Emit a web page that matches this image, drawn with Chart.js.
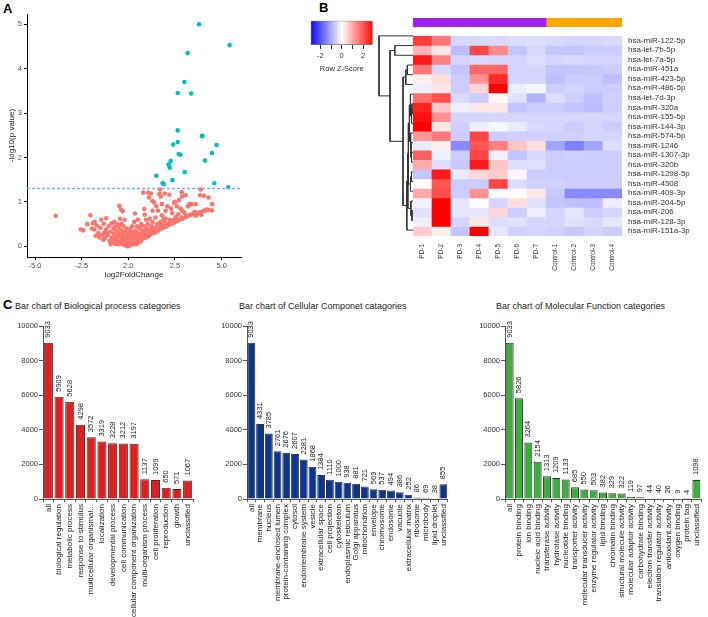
<!DOCTYPE html>
<html lang="en">
<head>
<meta charset="UTF-8">
<title>miRNA volcano, heatmap and GO bar charts</title>
<style>
  body { margin: 0; background: #fff; font-family: Arial, "Liberation Sans", sans-serif; }
  #page { position: relative; width: 708px; height: 617px; overflow: hidden; }
  canvas { position: absolute; }
  .panel { position: absolute; font-weight: bold; font-size: 13px; color: #000; }
  .ttl { position: absolute; font-size: 9px; color: #222; white-space: nowrap; }
</style>
<script src="https://cdn.jsdelivr.net/npm/chart.js"></script>
</head>
<body>
<div id="page">
  <div class="panel" style="left:3px;top:1px">A</div>
  <div class="panel" style="left:319px;top:0px">B</div>
  <div class="panel" style="left:3px;top:297px">C</div>
  <div class="ttl" style="left:15px;top:301px">Bar chart of Biological process categories</div>
  <div class="ttl" style="left:239px;top:301px">Bar chart of Cellular Componet catagories</div>
  <div class="ttl" style="left:496px;top:301px">Bar chart of Molecular Function categories</div>

  <canvas id="volcano" style="left:0;top:0" width="245" height="285"></canvas>
  <canvas id="zkey" style="left:300px;top:15px" width="80" height="60"></canvas>
  <canvas id="groups" style="left:413px;top:18px" width="209" height="9"></canvas>
  <canvas id="dendro" style="left:378px;top:31px" width="35" height="204"></canvas>
  <canvas id="heat" style="left:413px;top:25px" width="295" height="250"></canvas>
  <canvas id="bp" style="left:0;top:318px" width="200" height="299"></canvas>
  <canvas id="cc" style="left:203px;top:318px" width="252" height="299"></canvas>
  <canvas id="mf" style="left:460px;top:318px" width="248" height="299"></canvas>
</div>

<script>
// ---- panel A: volcano ----
const volcanoXTicks = [-5, -2.5, 0, 2.5, 5];
const volcanoXLabels = ['-5.0', '-2.5', '2.0', '2.5', '5.0'];
const volcanoYTicks = [0, 1, 2, 3, 4, 5];
const pCutoff = 1.3;

// significant miRNAs [log2FC, -log10 p]
const sigPoints = [
  [3.79, 5.0], [5.43, 4.53], [3.18, 4.35], [3.0, 3.7], [2.65, 3.45], [3.37, 3.44],
  [2.65, 2.61], [3.95, 2.48], [3.98, 2.49], [2.65, 2.35], [2.41, 2.29], [4.73, 2.28],
  [2.7, 2.08], [2.79, 2.06], [4.48, 2.1], [2.27, 1.92], [4.11, 1.93], [2.16, 1.84],
  [2.22, 1.77], [3.02, 1.67], [1.5, 1.59], [2.36, 1.49], [1.84, 1.42], [1.9, 1.4],
  [4.61, 1.42], [5.36, 1.33]
];

const nonSigPoints = [
  [-3.89, 0.69], [-2.55, 0.38], [-2.41, 0.36], [-2.03, 0.70], [-2.2, 0.5], [-1.95, 0.4],
  [-1.9, 0.52], [-1.82, 0.38], [-1.8, 0.55], [-1.69, 0.47], [-1.75, 0.24], [-1.6, 0.3],
  [-1.6, 0.28], [-1.55, 0.2], [-1.5, 0.42], [-1.45, 0.6], [-1.4, 0.25], [-1.35, 0.15],
  [-1.32, 0.51], [-1.3, 0.3], [-1.25, 0.18], [-1.2, 0.38], [-1.19, 0.63], [-1.15, 0.3],
  [-1.1, 0.25], [-1.05, 0.45], [-1.0, 0.12], [-0.95, 0.33], [-0.95, 0.05], [-0.9, 0.52],
  [-0.9, 0.15], [-0.88, 0.2], [-0.85, 0.08], [-0.8, 0.4], [-0.8, 0.1], [-0.78, 0.28],
  [-0.75, 0.55], [-0.72, 0.15], [-0.7, 0.45], [-0.7, 0.06], [-0.65, 0.35], [-0.65, 0.2],
  [-0.62, 0.05], [-0.6, 0.22], [-0.6, 0.32], [-0.58, 0.5], [-0.55, 0.12], [-0.52, 0.3],
  [-0.5, 0.05], [-0.48, 0.91], [-0.48, 0.42], [-0.45, 0.62], [-0.45, 0.25], [-0.42, 0.08],
  [-0.4, 0.2], [-0.39, 0.83], [-0.38, 0.35], [-0.35, 0.5], [-0.35, 0.1], [-0.32, 0.15],
  [-0.3, 0.79], [-0.3, 0.28], [-0.28, 0.04], [-0.25, 0.45], [-0.25, 0.15], [-0.22, 0.1],
  [-0.2, 0.6], [-0.2, 0.22], [-0.18, 0.35], [-0.15, 0.02], [-0.15, 0.22], [-0.12, 0.18],
  [-0.1, 0.4], [-0.1, 0.05], [-0.08, 0.08], [-0.05, 0.28], [-0.03, 0.0], [-0.02, 0.15],
  [0.0, 0.1], [0.02, 0.05], [0.05, 0.2], [0.05, 0.3], [0.08, 0.02], [0.1, 0.35],
  [0.12, 0.1], [0.12, 0.4], [0.15, 0.25], [0.18, 0.06], [0.2, 0.45], [0.2, 0.08],
  [0.22, 0.15], [0.25, 0.3], [0.25, 0.12], [0.28, 0.04], [0.3, 0.2], [0.32, 0.55],
  [0.32, 0.25], [0.35, 0.1], [0.36, 0.74], [0.38, 0.35], [0.4, 0.08], [0.4, 0.15],
  [0.42, 0.22], [0.45, 0.45], [0.45, 0.05], [0.48, 0.14], [0.5, 0.3], [0.52, 0.6],
  [0.55, 0.1], [0.55, 0.25], [0.58, 0.2], [0.6, 0.4], [0.6, 0.1], [0.62, 0.16],
  [0.65, 0.28], [0.65, 0.45], [0.68, 0.12], [0.7, 0.5], [0.72, 0.22], [0.75, 0.35],
  [0.75, 0.2], [0.78, 0.17], [0.8, 1.21], [0.82, 0.28], [0.85, 0.45], [0.85, 0.3],
  [0.86, 0.84], [0.88, 0.71], [0.9, 0.2], [0.92, 0.35], [0.95, 0.6], [0.95, 0.2],
  [0.98, 0.25], [1.0, 0.4], [1.02, 0.22], [1.05, 0.5], [1.05, 0.28], [1.07, 1.21],
  [1.1, 0.3], [1.11, 1.10], [1.12, 0.24], [1.15, 0.62], [1.15, 0.35], [1.18, 0.38],
  [1.2, 0.28], [1.22, 1.19], [1.25, 0.45], [1.25, 0.32], [1.28, 0.3], [1.29, 1.02],
  [1.3, 0.55], [1.3, 0.8], [1.35, 0.33], [1.35, 0.4], [1.38, 0.99], [1.4, 0.42],
  [1.42, 0.3], [1.45, 0.65], [1.45, 0.35], [1.5, 0.36], [1.5, 0.9], [1.55, 0.5],
  [1.55, 0.38], [1.58, 0.34], [1.6, 0.8], [1.62, 0.42], [1.65, 0.5], [1.66, 1.18],
  [1.68, 0.38], [1.7, 1.28], [1.72, 0.55], [1.74, 1.12], [1.75, 0.4], [1.75, 0.45],
  [1.8, 0.7], [1.8, 0.95], [1.85, 0.42], [1.85, 0.5], [1.9, 0.55], [1.9, 0.62],
  [1.95, 1.19], [1.95, 0.44], [2.0, 0.62], [2.0, 0.48], [2.0, 0.8], [2.05, 0.45],
  [2.1, 0.9], [2.1, 0.5], [2.15, 0.48], [2.2, 1.16], [2.22, 0.6], [2.25, 0.55],
  [2.28, 0.5], [2.3, 0.85], [2.35, 0.75], [2.35, 0.55], [2.4, 0.52], [2.45, 0.98],
  [2.45, 0.6], [2.5, 0.55], [2.5, 1.0], [2.55, 0.66], [2.6, 0.57], [2.6, 0.9],
  [2.65, 0.6], [2.68, 0.72], [2.72, 1.04], [2.75, 0.6], [2.8, 0.85], [2.85, 0.65],
  [2.86, 1.22], [2.88, 1.12], [2.89, 0.8], [2.92, 0.62], [3.0, 0.76], [3.05, 0.66],
  [3.07, 1.15], [3.1, 0.68], [3.15, 0.68], [3.2, 0.9], [3.25, 0.7], [3.27, 0.95],
  [3.3, 0.7], [3.37, 0.95], [3.4, 0.72], [3.5, 0.72], [3.54, 0.77], [3.55, 0.74],
  [3.6, 0.95], [3.63, 0.69], [3.7, 0.76], [3.8, 0.75], [3.84, 1.15], [3.88, 1.28],
  [3.9, 0.78], [3.91, 0.71], [4.05, 1.14], [4.05, 0.8], [4.1, 0.8], [4.2, 0.83],
  [4.3, 0.82], [4.3, 1.1], [4.48, 0.81], [4.5, 0.95]
];

// ---- panel B: heatmap ----
const samples = ['PD-1', 'PD-2', 'PD-3', 'PD-4', 'PD-5', 'PD-6', 'PD-7',
                 'Control-1', 'Control-2', 'Control-3', 'Control-4'];
const groupNames = ['PD', 'Control'];
const groupSizes = [7, 4];
const groupColors = ['#A020F0', '#FFA500'];
const miRNAs = [
  'hsa-miR-122-5p', 'hsa-let-7b-5p', 'hsa-let-7a-5p', 'hsa-miR-451a', 'hsa-miR-423-5p',
  'hsa-miR-486-5p', 'hsa-let-7d-3p', 'hsa-miR-320a', 'hsa-miR-155-5p', 'hsa-miR-144-3p',
  'hsa-miR-574-5p', 'hsa-miR-1246', 'hsa-miR-1307-3p', 'hsa-miR-320b', 'hsa-miR-1298-5p',
  'hsa-miR-4508', 'hsa-miR-409-3p', 'hsa-miR-204-5p', 'hsa-miR-206', 'hsa-miR-128-3p',
  'hsa-miR-151a-3p'
];
// row z-scores, columns in `samples` order
const heatZ = [
  [2.3, 1.6, -0.45, -0.45, -0.45, -0.4, -0.4, -0.45, -0.5, -0.5, -0.45],
  [0.9, 0.3, -0.8, 2.2, 1.4, -0.7, -0.45, -0.7, -0.7, -0.6, -0.6],
  [2.7, 1.5, -0.5, -0.45, -0.5, -0.5, -0.4, -0.5, -0.45, -0.5, -0.5],
  [1.6, -0.45, -0.7, 1.8, 1.8, -0.5, -0.5, -0.7, -0.7, -0.65, -0.6],
  [0.2, 0.4, -0.6, 1.3, 2.5, -0.5, -0.5, -0.75, -0.6, -0.6, -0.75],
  [-0.2, 0.3, -0.6, 0.5, 3.0, -0.2, -0.1, -0.6, -0.5, -0.6, -0.6],
  [1.7, 2.1, -0.45, -0.6, 0.1, -0.35, -0.9, -0.4, -0.55, -0.75, -0.55],
  [2.6, 0.7, -0.2, 0.3, 0.3, -0.7, -0.6, -0.6, -0.7, -0.8, -0.6],
  [2.8, 1.3, -0.5, -0.5, -0.5, -0.5, -0.5, -0.5, -0.5, -0.5, -0.5],
  [3.0, 0.3, -0.55, -0.2, -0.1, -0.25, -0.45, -0.5, -0.6, -0.5, -0.6],
  [1.2, 1.6, -0.6, 2.2, -0.6, -0.55, -0.55, -0.55, -0.55, -0.5, -0.5],
  [-0.25, 0.2, -1.4, 2.0, 1.5, 0.7, 0.4, -1.1, -1.5, -1.1, -0.4],
  [1.9, -0.2, -0.6, 2.2, -0.15, -0.7, -0.45, -0.6, -0.55, -0.6, -0.6],
  [1.0, -0.4, -0.65, 2.7, 0.7, -0.4, -0.35, -0.6, -0.6, -0.6, -0.6],
  [-0.7, 2.7, -0.25, 0.5, 0.6, 0.1, -0.6, -0.6, -0.6, -0.6, -0.6],
  [0.05, 2.0, -0.6, -0.6, 2.2, -0.4, -0.55, -0.55, -0.6, -0.6, -0.6],
  [1.0, 2.1, -0.6, 1.3, -0.08, 0.05, 0.3, -0.65, -1.4, -1.4, -1.4],
  [-0.15, 3.0, -0.3, 0.0, -0.5, 0.4, -0.35, -0.7, -0.75, -0.75, -0.2],
  [-0.35, 3.0, -0.3, -0.3, 0.5, -0.6, -0.2, -0.5, -0.3, -0.6, -0.5],
  [-0.2, 3.0, -0.5, 0.3, -0.4, -0.35, -0.5, -0.5, -0.35, -0.45, -0.3],
  [0.6, 0.2, -0.7, 3.0, -0.3, -0.55, -0.5, -0.55, -0.65, -0.5, -0.6]
];
// hclust-style merges: negative = row number (1-based), positive = earlier merge
const rowMerges = [
  [-8, -9, 1.0], [1, -10, 1.5], [-7, 2, 2.5], [-13, -14, 1.5], [-12, 4, 2.0],
  [-11, 5, 2.5], [3, 6, 3.5], [-15, -16, 1.5], [-17, 8, 2.5], [7, 9, 4.5],
  [-19, -20, 1.0], [-18, 11, 2.0], [10, 12, 5.0], [13, -21, 6.0], [-4, -5, 5.5],
  [15, -6, 7.0], [16, 14, 9.7], [-2, -3, 17.7], [18, 17, 22.3], [-1, 19, 33.0]
];
const keyRange = [-2.9, 2.9];
const keyTicks = [-2, -1, 0, 1, 2];

// ---- panel C: GO categories ----
const bpCats = ['all', 'biological regulation', 'metabolic process', 'response to stimulus',
  'multicellular organismal...', 'localization', 'developmental process', 'cell communication',
  'cellular component organization', 'multi-organism process', 'cell proliferation',
  'reproduction', 'growth', 'unclassified'];
const bpVals = [9033, 5909, 5628, 4298, 3572, 3319, 3228, 3212, 3197, 1137, 1099, 650, 571, 1067];

const ccCats = ['all', 'membrane', 'nucleus', 'membrane-enclosed lumen', 'protein-containing complex',
  'cytosol', 'endomembrane system', 'vesicle', 'extracellular space', 'cell projection',
  'cytoskeleton', 'endoplasmic reticulum', 'Golgi apparatus', 'mitochondrion', 'envelope',
  'chromosome', 'endosome', 'vacuole', 'extracellular matrix', 'ribosome', 'microbody',
  'lipid droplet', 'unclassified'];
const ccVals = [9033, 4331, 3785, 2761, 2676, 2607, 2281, 1868, 1384, 1110, 1000, 938, 881,
  721, 569, 537, 494, 386, 252, 86, 69, 38, 855];

const mfCats = ['all', 'protein binding', 'ion binding', 'nucleic acid binding', 'transferase activity',
  'hydrolase activity', 'nucleotide binding', 'transporter activity', 'molecular transducer activity',
  'enzyme regulator activity', 'lipid binding', 'chromatin binding', 'structural molecule activity',
  'molecular adaptor activity', 'carbohydrate binding', 'electron transfer activity',
  'translation regulator activity', 'antioxidant activity', 'oxygen binding', 'protein tag',
  'unclassified'];
const mfVals = [9033, 5826, 3264, 2154, 1313, 1209, 1133, 685, 550, 503, 382, 329, 322, 119,
  97, 44, 40, 26, 9, 4, 1098];
const goTicks = [0, 2000, 4000, 6000, 8000, 10000];

Chart.defaults.font.family = 'Arial, "Liberation Sans", sans-serif';
Chart.defaults.color = '#333';
const noChrome = { legend: { display: false }, tooltip: { enabled: false } };

function zColor(z) {
  const t = Math.min(Math.abs(z) / 3, 1);
  const c = Math.round(255 * (1 - t));
  return z >= 0 ? `rgb(255,${c},${c})` : `rgb(${c},${c},255)`;
}

// volcano
new Chart(document.getElementById('volcano'), {
  type: 'scatter',
  data: {
    datasets: [
      { type: 'line', data: [{ x: -5.43, y: pCutoff }, { x: 6.04, y: pCutoff }],
        borderColor: '#7aaefc', borderWidth: 1.5, borderDash: [3, 2], pointRadius: 0 },
      { data: sigPoints.map(p => ({ x: p[0], y: p[1] })), backgroundColor: '#00BFC4',
        pointRadius: 2.3, borderWidth: 0 },
      { data: nonSigPoints.map(p => ({ x: p[0], y: p[1] })), backgroundColor: '#F8766D',
        pointRadius: 2.3, borderWidth: 0 }
    ]
  },
  options: {
    responsive: false, animation: false,
    layout: { padding: { top: 14, right: 4 } },
    plugins: noChrome,
    scales: {
      x: {
        type: 'linear', min: -5.43, max: 6.04,
        afterBuildTicks: a => { a.ticks = volcanoXTicks.map(v => ({ value: v })); },
        ticks: { callback: (v, i) => volcanoXLabels[i], font: { size: 7.5 }, color: '#4d4d4d', padding: 1, maxRotation: 0 },
        grid: { drawOnChartArea: false, tickLength: 3, color: '#000' },
        border: { color: '#000' },
        title: { display: true, text: 'log2FoldChange', font: { size: 8 }, color: '#222', padding: { top: 0, bottom: 5 } },
        afterFit: a => { a.height = 28; }
      },
      y: {
        min: -0.24, max: 5.23,
        afterBuildTicks: a => { a.ticks = volcanoYTicks.map(v => ({ value: v })); },
        ticks: { font: { size: 7.5 }, color: '#4d4d4d', padding: 2 },
        grid: { drawOnChartArea: false, tickLength: 3, color: '#000' },
        border: { color: '#000' },
        title: { display: true, text: '-log10(p value)', font: { size: 8 }, color: '#222', padding: { top: 7, bottom: 0 } },
        afterFit: a => { a.width = 27; }
      }
    }
  }
});

// colour key
new Chart(document.getElementById('zkey'), {
  type: 'bar',
  data: {
    labels: ['z'],
    datasets: [{
      data: [keyRange],
      backgroundColor: ctx => {
        const area = ctx.chart.chartArea;
        if (!area) return '#fff';
        const g = ctx.chart.ctx.createLinearGradient(area.left, 0, area.right, 0);
        g.addColorStop(0, zColor(keyRange[0]));
        g.addColorStop(0.5, '#ffffff');
        g.addColorStop(1, zColor(keyRange[1]));
        return g;
      },
      borderColor: '#777', borderWidth: 1, borderSkipped: false,
      barPercentage: 1, categoryPercentage: 1
    }]
  },
  options: {
    indexAxis: 'y', responsive: false, animation: false,
    layout: { padding: { left: 10.7, right: 7.3, top: 5.7 } },
    plugins: noChrome,
    scales: {
      y: { display: false },
      x: {
        min: keyRange[0], max: keyRange[1],
        afterBuildTicks: a => { a.ticks = keyTicks.map(v => ({ value: v })); },
        ticks: { callback: v => (v % 2 === 0 ? String(v) : ''), font: { size: 7.5 }, color: '#333', padding: 2, maxRotation: 0 },
        grid: { drawOnChartArea: false, tickLength: 4, color: '#333' },
        border: { display: false },
        title: { display: true, text: 'Row Z-Score', font: { size: 7.5 }, color: '#333', padding: { top: 0, bottom: 1.5 } },
        afterFit: a => { a.height = 30; }
      }
    }
  }
});

// group annotation bar
new Chart(document.getElementById('groups'), {
  type: 'bar',
  data: {
    labels: [''],
    datasets: groupNames.map((g, i) => ({
      label: g, data: [groupSizes[i]], backgroundColor: groupColors[i],
      borderWidth: 0, barPercentage: 1, categoryPercentage: 1
    }))
  },
  options: {
    indexAxis: 'y', responsive: false, animation: false,
    plugins: noChrome,
    scales: {
      x: { display: false, stacked: true, min: 0, max: samples.length },
      y: { display: false, stacked: true }
    }
  }
});

// row dendrogram built from the merge table
const nodeY = [], nodeH = [];
function posOf(k) {
  return k < 0 ? { y: -k - 0.5, h: 0 } : { y: nodeY[k - 1], h: nodeH[k - 1] };
}
const dendroSets = rowMerges.map(m => {
  const a = posOf(m[0]), b = posOf(m[1]);
  nodeY.push((a.y + b.y) / 2);
  nodeH.push(m[2]);
  return {
    data: [{ x: a.h, y: a.y }, { x: m[2], y: a.y }, { x: m[2], y: b.y }, { x: b.h, y: b.y }],
    showLine: true, borderColor: '#333', borderWidth: 1, pointRadius: 0, clip: false
  };
});
new Chart(document.getElementById('dendro'), {
  type: 'scatter',
  data: { datasets: dendroSets },
  options: {
    responsive: false, animation: false,
    plugins: noChrome,
    scales: {
      x: { display: false, min: 0, max: 34, reverse: true },
      y: { display: false, min: 0, max: miRNAs.length, reverse: true }
    }
  }
});

// heatmap as stacked unit bars coloured by z-score
new Chart(document.getElementById('heat'), {
  type: 'bar',
  data: {
    labels: samples,
    datasets: miRNAs.map((name, r) => ({
      label: name,
      data: samples.map(() => 1),
      backgroundColor: heatZ[r].map(zColor),
      borderWidth: 0, barPercentage: 1, categoryPercentage: 1
    }))
  },
  options: {
    responsive: false, animation: false,
    layout: { padding: { top: 6 } },
    plugins: noChrome,
    scales: {
      x: {
        stacked: true,
        grid: { display: false, drawTicks: false },
        border: { display: false },
        ticks: { minRotation: 90, maxRotation: 90, autoSkip: false, padding: 8, font: { size: 6.5 }, color: '#333' },
        afterFit: a => { a.height = 39; }
      },
      y: {
        stacked: true, position: 'right', min: 0, max: miRNAs.length, reverse: true,
        afterBuildTicks: a => { a.ticks = miRNAs.map((n, i) => ({ value: i + 0.5 })); },
        ticks: { autoSkip: false, callback: (v, i) => miRNAs[i], font: { size: 8 }, color: '#333', padding: 6 },
        grid: { display: false, drawTicks: false },
        border: { display: false },
        afterFit: a => { a.width = 86; }
      }
    }
  }
});

// value labels above GO bars
const barValueLabels = {
  id: 'barValueLabels',
  afterDatasetsDraw(chart) {
    const ctx = chart.ctx;
    const vals = chart.data.datasets[0].data;
    ctx.save();
    ctx.font = '7.5px Arial, "Liberation Sans", sans-serif';
    ctx.fillStyle = '#222';
    ctx.textAlign = 'left';
    ctx.textBaseline = 'middle';
    chart.getDatasetMeta(0).data.forEach((bar, i) => {
      ctx.save();
      ctx.translate(bar.x, bar.y - 5);
      ctx.rotate(-Math.PI / 2);
      ctx.fillText(String(vals[i]), 0, 0);
      ctx.restore();
    });
    ctx.restore();
  }
};

function goChart(id, cats, vals, fill, axisWidth, padRight, barPct) {
  return new Chart(document.getElementById(id), {
    type: 'bar',
    data: {
      labels: cats,
      datasets: [{ data: vals, backgroundColor: fill, borderColor: '#333', borderWidth: 1,
        barPercentage: barPct, categoryPercentage: 1 }]
    },
    options: {
      responsive: false, animation: false,
      layout: { padding: { top: 8, right: padRight } },
      plugins: noChrome,
      scales: {
        x: {
          grid: { drawOnChartArea: false, tickLength: 3, color: '#555' },
          border: { color: '#555' },
          ticks: { minRotation: 90, maxRotation: 90, autoSkip: false, padding: 2, font: { size: 8 }, color: '#222' },
          afterFit: a => { a.height = 118; }
        },
        y: {
          min: 0, max: 10000,
          afterBuildTicks: a => { a.ticks = goTicks.map(v => ({ value: v })); },
          ticks: { callback: v => String(v), font: { size: 7.5 }, color: '#333', padding: 1 },
          grid: { drawOnChartArea: false, tickLength: 4, color: '#555' },
          border: { color: '#555' },
          afterFit: a => { a.width = axisWidth; }
        }
      }
    },
    plugins: [barValueLabels]
  });
}

goChart('bp', bpCats, bpVals, '#e02020', 43, 7, 0.85);
goChart('cc', ccCats, ccVals, '#0a3590', 44, 2, 0.9);
goChart('mf', mfCats, mfVals, '#3dae3d', 45, 2, 0.85);
</script>
</body>
</html>
